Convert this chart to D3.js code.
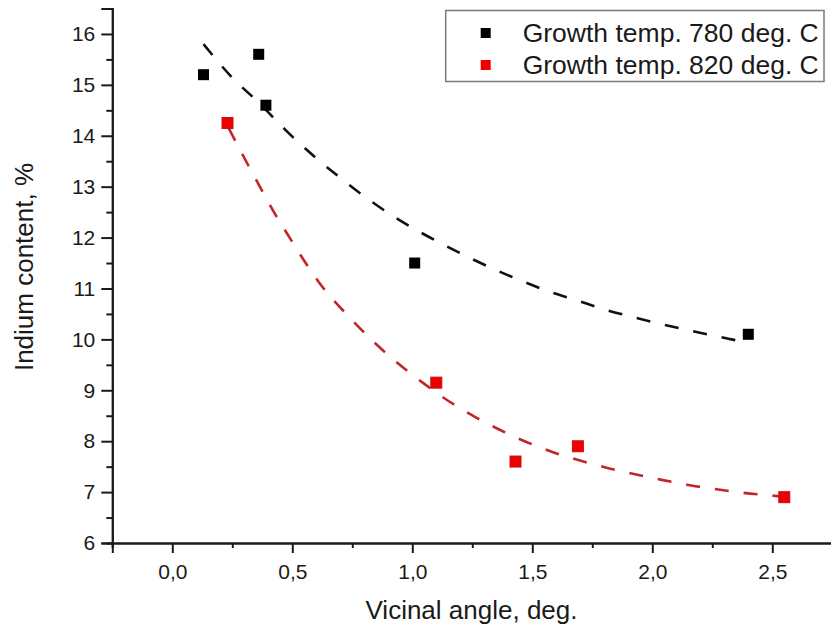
<!DOCTYPE html>
<html>
<head>
<meta charset="utf-8">
<script src="https://cdn.jsdelivr.net/npm/d3@7"></script>
<style>
  html, body { margin: 0; padding: 0; background: #fff; }
  svg { display: block; }
  text { font-family: "Liberation Sans", Arial, sans-serif; fill: #1a1a1a; }
</style>
</head>
<body>
<svg id="chart" width="831" height="628"></svg>
<script>
// Measured points: vicinal angle (deg.) vs indium content (%)
const angle780 = [0.13, 0.36, 0.39, 1.01, 2.40];
const indium780 = [15.2, 15.6, 14.6, 11.5, 10.1];
const angle820 = [0.23, 1.10, 1.43, 1.69, 2.55];
const indium820 = [14.25, 9.15, 7.6, 7.9, 6.9];

// Exponential-decay fit curves, sampled along each dashed line
const fitAngle780 = [0.13, 0.25, 0.365, 0.47, 0.58, 0.69, 0.80, 0.91, 1.02, 1.13, 1.24, 1.35, 1.46, 1.57, 1.69, 1.80, 1.91, 2.02, 2.13, 2.24, 2.34, 2.40];
const fitIndium780 = [15.8, 15.14, 14.63, 14.12, 13.64, 13.21, 12.81, 12.45, 12.14, 11.86, 11.60, 11.36, 11.14, 10.94, 10.76, 10.59, 10.45, 10.32, 10.20, 10.09, 9.99, 9.94];
const fitAngle820 = [0.235, 0.296, 0.358, 0.421, 0.49, 0.56, 0.629, 0.727, 0.824, 0.935, 1.046, 1.157, 1.268, 1.379, 1.483, 1.595, 1.706, 1.817, 1.928, 2.039, 2.15, 2.261, 2.372, 2.477, 2.55];
const fitIndium820 = [14.15, 13.6, 13.06, 12.52, 11.99, 11.47, 11.01, 10.49, 10.02, 9.55, 9.14, 8.77, 8.46, 8.19, 7.97, 7.77, 7.61, 7.47, 7.35, 7.24, 7.14, 7.06, 6.99, 6.94, 6.91];

// Axis ticks
const xMajor = [0, 0.5, 1, 1.5, 2, 2.5];
const xMinor = [-0.25, 0.25, 0.75, 1.25, 1.75, 2.25, 2.75];
const yMajor = [6, 7, 8, 9, 10, 11, 12, 13, 14, 15, 16];
const yMinor = [6.5, 7.5, 8.5, 9.5, 10.5, 11.5, 12.5, 13.5, 14.5, 15.5, 16.5];

const seriesNames = ["Growth temp. 780 deg. C", "Growth temp. 820 deg. C"];
const xTitle = "Vicinal angle, deg.";
const yTitle = "Indium content, %";

const svg = d3.select("#chart");

const x = d3.scaleLinear().domain([-0.25, 2.75]).range([112.3, 832.3]);
const y = d3.scaleLinear().domain([6, 16.5]).range([543, 8.5]);

const fmt = d => d3.format(".1f")(d).replace(".", ",");

// Axes
function styleAxis(g) {
  g.select(".domain").attr("stroke", "#1a1a1a").attr("stroke-width", 2);
  g.selectAll(".tick line").attr("stroke", "#1a1a1a").attr("stroke-width", 2);
  g.selectAll("text").attr("font-size", 21).attr("fill", "#1a1a1a");
}

const xAxisG = svg.append("g").attr("transform", `translate(0,${y(6)})`);
xAxisG.append("g")
  .call(d3.axisBottom(x).tickValues(xMinor).tickSize(5).tickFormat(""))
  .call(styleAxis);
xAxisG.append("g")
  .call(d3.axisBottom(x).tickValues(xMajor).tickSize(10).tickPadding(11).tickFormat(fmt))
  .call(styleAxis);

const yAxisG = svg.append("g").attr("transform", `translate(${x(-0.25)},0)`);
yAxisG.append("g")
  .call(d3.axisLeft(y).tickValues(yMinor).tickSize(6).tickFormat(""))
  .call(styleAxis);
yAxisG.append("g")
  .call(d3.axisLeft(y).tickValues(yMajor).tickSize(11).tickPadding(6).tickFormat(d3.format("d")))
  .call(styleAxis);

// Axis titles
svg.append("text")
  .attr("x", 471.5).attr("y", 619)
  .attr("text-anchor", "middle")
  .attr("font-size", 26)
  .text(xTitle);

svg.append("text")
  .attr("transform", "translate(33,267) rotate(-90)")
  .attr("text-anchor", "middle")
  .attr("font-size", 26)
  .text(yTitle);

// Fit curves
const line = d3.line()
  .x(d => x(d[0]))
  .y(d => y(d[1]))
  .curve(d3.curveMonotoneX);

svg.append("path")
  .datum(d3.zip(fitAngle780, fitIndium780))
  .attr("d", line)
  .attr("fill", "none")
  .attr("stroke", "#111")
  .attr("stroke-width", 2.6)
  .attr("stroke-dasharray", "14,15");

svg.append("path")
  .datum(d3.zip(fitAngle820, fitIndium820))
  .attr("d", line)
  .attr("fill", "none")
  .attr("stroke", "#c0262c")
  .attr("stroke-width", 2.6)
  .attr("stroke-dasharray", "14,15");

// Data markers
const size = 11;
svg.append("g").selectAll("rect")
  .data(d3.zip(angle780, indium780))
  .join("rect")
  .attr("x", d => x(d[0]) - size / 2)
  .attr("y", d => y(d[1]) - size / 2)
  .attr("width", size).attr("height", size)
  .attr("fill", "#000");

svg.append("g").selectAll("rect")
  .data(d3.zip(angle820, indium820))
  .join("rect")
  .attr("x", d => x(d[0]) - size / 2)
  .attr("y", d => y(d[1]) - size / 2)
  .attr("width", size).attr("height", size)
  .attr("fill", "#ee0000")
  .attr("stroke", "#c81010")
  .attr("stroke-width", 1);

// Legend
const legend = svg.append("g");
legend.append("rect")
  .attr("x", 445.7).attr("y", 10.5)
  .attr("width", 378.3).attr("height", 71)
  .attr("fill", "#fff")
  .attr("stroke", "#7a7a7a")
  .attr("stroke-width", 1.5);

const legendColors = ["#000", "#ee0000"];
const legendRows = [33, 65];
seriesNames.forEach((name, i) => {
  legend.append("rect")
    .attr("x", 485.7 - 5).attr("y", legendRows[i] - 5)
    .attr("width", 10).attr("height", 10)
    .attr("fill", legendColors[i]);
  legend.append("text")
    .attr("x", 522.7).attr("y", legendRows[i] + 9)
    .attr("font-size", 26.5)
    .text(name);
});
</script>
</body>
</html>
